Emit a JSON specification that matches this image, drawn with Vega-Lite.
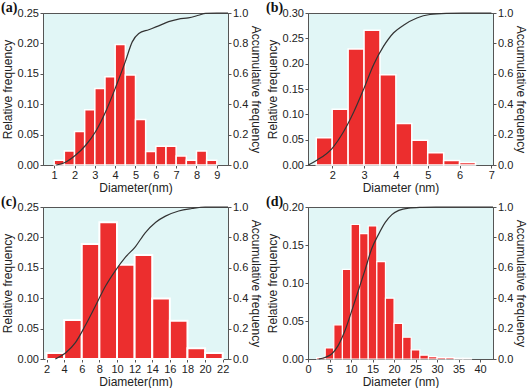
{
  "$schema": "https://vega.github.io/schema/vega-lite/v6.json",
  "autosize": {"type": "pad"},
  "padding": {"left": 0, "top": 0, "right": 0, "bottom": 0},
  "background": "white",
  "config": {
    "view": {"fill": "#e1f6f6", "stroke": "#555", "strokeWidth": 1},
    "axis": {
      "labelFont": "Liberation Sans", "titleFont": "Liberation Sans",
      "labelFontSize": 11, "titleFontSize": 12, "titleFontWeight": "normal",
      "labelColor": "#222", "titleColor": "#222", "labelOverlap": false,
      "domainColor": "#555", "tickColor": "#555", "grid": false,
      "tickSize": 3, "labelPadding": 1.5, "titlePadding": 3
    },
    "axisX": {"labelOverlap": false, "labelFlush": false, "titlePadding": 2},
    "axisRight": {"titlePadding": 1},
    "title": {"font": "Liberation Serif", "fontSize": 14, "fontWeight": "bold", "anchor": "start", "frame": "bounds", "offset": -8, "color": "#111"}
  },
  "datasets": {
    "a_bars": [
      {"x0": 1.0, "x1": 1.5, "f": 0.008}, {"x0": 1.5, "x1": 2.0, "f": 0.023},
      {"x0": 2.0, "x1": 2.5, "f": 0.055}, {"x0": 2.5, "x1": 3.0, "f": 0.091},
      {"x0": 3.0, "x1": 3.5, "f": 0.126}, {"x0": 3.5, "x1": 4.0, "f": 0.145},
      {"x0": 4.0, "x1": 4.5, "f": 0.198}, {"x0": 4.5, "x1": 5.0, "f": 0.148},
      {"x0": 5.0, "x1": 5.5, "f": 0.075}, {"x0": 5.5, "x1": 6.0, "f": 0.022},
      {"x0": 6.0, "x1": 6.5, "f": 0.031}, {"x0": 6.5, "x1": 7.0, "f": 0.031},
      {"x0": 7.0, "x1": 7.5, "f": 0.015}, {"x0": 7.5, "x1": 8.0, "f": 0.008},
      {"x0": 8.0, "x1": 8.5, "f": 0.023}, {"x0": 8.5, "x1": 9.0, "f": 0.008}
    ],
    "a_line": [
      {"x": 1.1, "c": 0.0}, {"x": 1.5, "c": 0.015}, {"x": 2.06, "c": 0.066},
      {"x": 2.55, "c": 0.13}, {"x": 3.04, "c": 0.22}, {"x": 3.53, "c": 0.35},
      {"x": 4.02, "c": 0.51}, {"x": 4.5, "c": 0.68}, {"x": 4.84, "c": 0.81},
      {"x": 5.16, "c": 0.865}, {"x": 5.65, "c": 0.89}, {"x": 6.14, "c": 0.915},
      {"x": 6.63, "c": 0.943}, {"x": 7.12, "c": 0.96}, {"x": 7.6, "c": 0.968},
      {"x": 8.1, "c": 0.985}, {"x": 8.45, "c": 0.998}, {"x": 9.0, "c": 1.0},
      {"x": 9.55, "c": 1.0}
    ],
    "b_bars": [
      {"x0": 1.5, "x1": 2.0, "f": 0.054}, {"x0": 2.0, "x1": 2.5, "f": 0.110},
      {"x0": 2.5, "x1": 3.0, "f": 0.229}, {"x0": 3.0, "x1": 3.5, "f": 0.266},
      {"x0": 3.5, "x1": 4.0, "f": 0.178}, {"x0": 4.0, "x1": 4.5, "f": 0.082},
      {"x0": 4.5, "x1": 5.0, "f": 0.049}, {"x0": 5.0, "x1": 5.5, "f": 0.024},
      {"x0": 5.5, "x1": 6.0, "f": 0.009}, {"x0": 6.0, "x1": 6.5, "f": 0.005}
    ],
    "b_line": [
      {"x": 1.25, "c": 0.0}, {"x": 1.53, "c": 0.033}, {"x": 2.0, "c": 0.11},
      {"x": 2.36, "c": 0.22}, {"x": 2.68, "c": 0.35}, {"x": 2.99, "c": 0.5},
      {"x": 3.3, "c": 0.66}, {"x": 3.61, "c": 0.78}, {"x": 3.93, "c": 0.87},
      {"x": 4.24, "c": 0.92}, {"x": 4.66, "c": 0.967}, {"x": 5.07, "c": 0.99},
      {"x": 5.6, "c": 0.998}, {"x": 6.1, "c": 1.0}, {"x": 7.0, "c": 1.0}
    ],
    "c_bars": [
      {"x0": 2, "x1": 4, "f": 0.0098}, {"x0": 4, "x1": 6, "f": 0.064},
      {"x0": 6, "x1": 8, "f": 0.189}, {"x0": 8, "x1": 10, "f": 0.225},
      {"x0": 10, "x1": 12, "f": 0.155}, {"x0": 12, "x1": 14, "f": 0.171},
      {"x0": 14, "x1": 16, "f": 0.0996}, {"x0": 16, "x1": 18, "f": 0.063},
      {"x0": 18, "x1": 20, "f": 0.0175}, {"x0": 20, "x1": 22, "f": 0.0098}
    ],
    "c_line": [
      {"x": 3.0, "c": 0.0}, {"x": 4.15, "c": 0.04}, {"x": 5.3, "c": 0.11},
      {"x": 6.4, "c": 0.22}, {"x": 7.56, "c": 0.35}, {"x": 8.7, "c": 0.48},
      {"x": 9.8, "c": 0.58}, {"x": 10.96, "c": 0.67}, {"x": 12.1, "c": 0.74},
      {"x": 13.2, "c": 0.83}, {"x": 14.4, "c": 0.9}, {"x": 15.5, "c": 0.94},
      {"x": 17.0, "c": 0.974}, {"x": 18.5, "c": 0.99}, {"x": 20.0, "c": 1.0},
      {"x": 22.6, "c": 1.0}
    ],
    "d_bars": [
      {"x0": 2, "x1": 4, "f": 0.002}, {"x0": 4, "x1": 6, "f": 0.0145},
      {"x0": 6, "x1": 8, "f": 0.045}, {"x0": 8, "x1": 10, "f": 0.118},
      {"x0": 10, "x1": 12, "f": 0.177}, {"x0": 12, "x1": 14, "f": 0.165},
      {"x0": 14, "x1": 16, "f": 0.175}, {"x0": 16, "x1": 18, "f": 0.128},
      {"x0": 18, "x1": 20, "f": 0.080}, {"x0": 20, "x1": 22, "f": 0.047},
      {"x0": 22, "x1": 24, "f": 0.0286}, {"x0": 24, "x1": 26, "f": 0.012},
      {"x0": 26, "x1": 28, "f": 0.005}, {"x0": 28, "x1": 30, "f": 0.003},
      {"x0": 30, "x1": 32, "f": 0.002}, {"x0": 32, "x1": 34, "f": 0.002},
      {"x0": 34, "x1": 36, "f": 0.001}, {"x0": 36, "x1": 38, "f": 0.001}
    ],
    "d_line": [
      {"x": 2.5, "c": 0.0}, {"x": 3.9, "c": 0.01}, {"x": 5.5, "c": 0.033},
      {"x": 7.0, "c": 0.088}, {"x": 8.6, "c": 0.187}, {"x": 10.2, "c": 0.32},
      {"x": 11.7, "c": 0.45}, {"x": 13.3, "c": 0.59}, {"x": 14.8, "c": 0.725},
      {"x": 16.4, "c": 0.82}, {"x": 18.0, "c": 0.9}, {"x": 19.5, "c": 0.95},
      {"x": 21.1, "c": 0.978}, {"x": 23.4, "c": 0.993}, {"x": 26.6, "c": 0.998},
      {"x": 29.7, "c": 1.0}, {"x": 43.0, "c": 1.0}
    ]
  },
  "spacing": 0,
  "vconcat": [
    {
      "spacing": 2,
      "hconcat": [
        {
          "title": {"text": "(a)"},
          "width": 185, "height": 152,
          "layer": [
            {
              "data": {"name": "a_bars"},
              "mark": {"type": "bar", "color": "#ec2e2e", "stroke": "white", "strokeWidth": 1.5},
              "encoding": {
                "x": {"field": "x0", "type": "quantitative", "scale": {"domain": [0.45, 9.55], "nice": false, "zero": false},
                      "axis": {"values": [1, 2, 3, 4, 5, 6, 7, 8, 9], "format": "d", "title": "Diameter(nm)", "labelOverlap": false}},
                "x2": {"field": "x1"},
                "y": {"field": "f", "type": "quantitative", "scale": {"domain": [0, 0.25], "nice": false},
                      "axis": {"values": [0, 0.05, 0.1, 0.15, 0.2, 0.25], "format": ".2f", "title": "Relative frequency"}},
                "y2": {"datum": 0}
              }
            },
            {
              "data": {"name": "a_line"},
              "mark": {"type": "line", "color": "#333", "strokeWidth": 1.2, "interpolate": "monotone"},
              "encoding": {
                "x": {"field": "x", "type": "quantitative",
                      "axis": {"values": [1, 2, 3, 4, 5, 6, 7, 8, 9], "format": "d", "title": "Diameter(nm)", "labelOverlap": false}},
                "y": {"field": "c", "type": "quantitative", "scale": {"domain": [0, 1], "nice": false},
                      "axis": {"orient": "right", "values": [0, 0.2, 0.4, 0.6, 0.8, 1.0], "format": ".1f", "title": "Accumulative frequency"}}
              }
            }
          ],
          "resolve": {"scale": {"y": "independent"}}
        },
        {
          "title": {"text": "(b)"},
          "width": 185, "height": 152,
          "layer": [
            {
              "data": {"name": "b_bars"},
              "mark": {"type": "bar", "color": "#ec2e2e", "stroke": "white", "strokeWidth": 1.5},
              "encoding": {
                "x": {"field": "x0", "type": "quantitative", "scale": {"domain": [1.24, 7.05], "nice": false, "zero": false},
                      "axis": {"values": [2, 3, 4, 5, 6, 7], "format": "d", "title": "Diameter (nm)", "labelOverlap": false}},
                "x2": {"field": "x1"},
                "y": {"field": "f", "type": "quantitative", "scale": {"domain": [0, 0.3], "nice": false},
                      "axis": {"values": [0, 0.05, 0.1, 0.15, 0.2, 0.25, 0.3], "format": ".2f", "title": "Relative frequency"}},
                "y2": {"datum": 0}
              }
            },
            {
              "data": {"name": "b_line"},
              "mark": {"type": "line", "color": "#333", "strokeWidth": 1.2, "interpolate": "monotone"},
              "encoding": {
                "x": {"field": "x", "type": "quantitative",
                      "axis": {"values": [2, 3, 4, 5, 6, 7], "format": "d", "title": "Diameter (nm)", "labelOverlap": false}},
                "y": {"field": "c", "type": "quantitative", "scale": {"domain": [0, 1], "nice": false},
                      "axis": {"orient": "right", "values": [0, 0.2, 0.4, 0.6, 0.8, 1.0], "format": ".1f", "title": "Accumulative frequency"}}
              }
            }
          ],
          "resolve": {"scale": {"y": "independent"}}
        }
      ]
    },
    {
      "spacing": 2,
      "hconcat": [
        {
          "title": {"text": "(c)"},
          "width": 185, "height": 152,
          "layer": [
            {
              "data": {"name": "c_bars"},
              "mark": {"type": "bar", "color": "#ec2e2e", "stroke": "white", "strokeWidth": 2},
              "encoding": {
                "x": {"field": "x0", "type": "quantitative", "scale": {"domain": [1.6, 22.6], "nice": false, "zero": false},
                      "axis": {"values": [2, 4, 6, 8, 10, 12, 14, 16, 18, 20, 22], "format": "d", "title": "Diameter(nm)", "labelOverlap": false}},
                "x2": {"field": "x1"},
                "y": {"field": "f", "type": "quantitative", "scale": {"domain": [0, 0.25], "nice": false},
                      "axis": {"values": [0, 0.05, 0.1, 0.15, 0.2, 0.25], "format": ".2f", "title": "Relative frequency"}},
                "y2": {"datum": 0}
              }
            },
            {
              "data": {"name": "c_line"},
              "mark": {"type": "line", "color": "#333", "strokeWidth": 1.2, "interpolate": "monotone"},
              "encoding": {
                "x": {"field": "x", "type": "quantitative",
                      "axis": {"values": [2, 4, 6, 8, 10, 12, 14, 16, 18, 20, 22], "format": "d", "title": "Diameter(nm)", "labelOverlap": false}},
                "y": {"field": "c", "type": "quantitative", "scale": {"domain": [0, 1], "nice": false},
                      "axis": {"orient": "right", "values": [0, 0.2, 0.4, 0.6, 0.8, 1.0], "format": ".1f", "title": "Accumulative frequency"}}
              }
            }
          ],
          "resolve": {"scale": {"y": "independent"}}
        },
        {
          "title": {"text": "(d)"},
          "width": 185, "height": 152,
          "layer": [
            {
              "data": {"name": "d_bars"},
              "mark": {"type": "bar", "color": "#ec2e2e", "stroke": "white", "strokeWidth": 1.2},
              "encoding": {
                "x": {"field": "x0", "type": "quantitative", "scale": {"domain": [0, 43], "nice": false, "zero": false},
                      "axis": {"values": [0, 5, 10, 15, 20, 25, 30, 35, 40], "format": "d", "title": "Diameter (nm)", "labelOverlap": false}},
                "x2": {"field": "x1"},
                "y": {"field": "f", "type": "quantitative", "scale": {"domain": [0, 0.2], "nice": false},
                      "axis": {"values": [0, 0.05, 0.1, 0.15, 0.2], "format": ".2f", "title": "Relative frequency"}},
                "y2": {"datum": 0}
              }
            },
            {
              "data": {"name": "d_line"},
              "mark": {"type": "line", "color": "#333", "strokeWidth": 1.2, "interpolate": "monotone"},
              "encoding": {
                "x": {"field": "x", "type": "quantitative",
                      "axis": {"values": [0, 5, 10, 15, 20, 25, 30, 35, 40], "format": "d", "title": "Diameter (nm)", "labelOverlap": false}},
                "y": {"field": "c", "type": "quantitative", "scale": {"domain": [0, 1], "nice": false},
                      "axis": {"orient": "right", "values": [0, 0.2, 0.4, 0.6, 0.8, 1.0], "format": ".1f", "title": "Accumulative frequency"}}
              }
            }
          ],
          "resolve": {"scale": {"y": "independent"}}
        }
      ]
    }
  ]
}
